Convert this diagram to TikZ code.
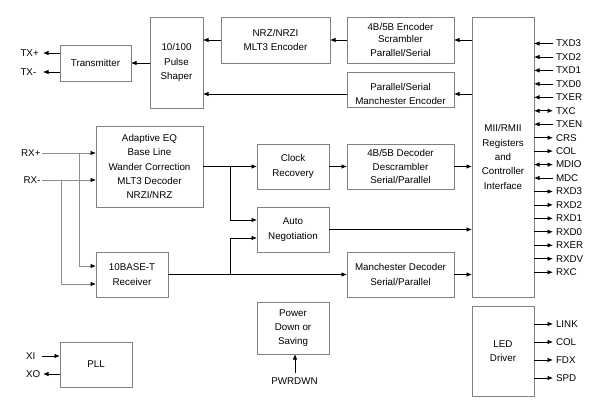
\documentclass[tikz,border=0pt]{standalone}
\usepackage{fontspec}
\setmainfont{Liberation Sans}
\usetikzlibrary{arrows.meta}
\definecolor{bordergray}{HTML}{808080}
\definecolor{wiregray}{HTML}{8C8C8C}
\begin{document}
\begin{tikzpicture}[x=1pt,y=-1pt,
  font=\fontsize{9.8}{14.3}\selectfont,
  blk/.style={draw=bordergray,line width=0.9pt,rectangle,align=center,inner sep=0pt,outer sep=0pt},
  wire/.style={line width=0.8pt,draw=black},
  arr/.style={wire,-{Latex[length=5.5pt,width=4.5pt]}},
  barr/.style={wire,{Latex[length=5.5pt,width=4.5pt]}-{Latex[length=5.5pt,width=4.5pt]}},
  gwire/.style={line width=0.8pt,draw=wiregray},
  garr/.style={gwire,-{Latex[length=5.5pt,width=4.5pt,color=black]}},
  sig-i/.style={wire,{Latex[length=5.5pt,width=4.5pt]}-},
  sig-o/.style={arr},
  sig-b/.style={barr},
  lbl/.style={inner sep=0pt,outer sep=0pt}]
\useasboundingbox (0,0) rectangle (599,410);

% blocks
\node[blk,minimum width=53,minimum height=91] (ps) at (176.5,62.5) {10/100\\Pulse\\Shaper};
\node[blk,minimum width=71,minimum height=36] (tx) at (95.5,63) {Transmitter};
\node[blk,minimum width=109,minimum height=46] (nrz) at (275.5,40) {NRZ/NRZI\\MLT3 Encoder};
\node[blk,minimum width=107,minimum height=46] (enc) at (400.5,40) {4B/5B Encoder\\[-3pt]Scrambler\\Parallel/Serial};
\node[blk,minimum width=107,minimum height=35] (menc) at (400.5,89.5) {};
\node[lbl,align=center] (mencT) at (400.5,94) {Parallel/Serial\\Manchester Encoder};
\node[blk,minimum width=62,minimum height=280] (mii) at (503,157) {MII/RMII\\Registers\\and\\Controller\\Interface};
\node[blk,minimum width=107,minimum height=81] (aeq) at (149.5,166.5) {Adaptive EQ\\Base Line\\Wander Correction\\MLT3 Decoder\\NRZI/NRZ};
\node[blk,minimum width=72,minimum height=45] (clk) at (293,166.5) {Clock\\Recovery};
\node[blk,minimum width=107,minimum height=45] (dec) at (400.5,166.5) {4B/5B Decoder\\[-1pt]Descrambler\\[-1pt]Serial/Parallel};
\node[blk,minimum width=72,minimum height=45] (an) at (293,229.5) {Auto\\Negotiation};
\node[blk,minimum width=72,minimum height=45] (tenb) at (132,274.5) {10BASE-T\\Receiver};
\node[blk,minimum width=107,minimum height=45] (mdec) at (400.5,274.5) {Manchester Decoder\\Serial/Parallel};
\node[blk,minimum width=62,minimum height=90] (led) at (503,351) {LED\\Driver};
\node[blk,minimum width=72,minimum height=45] (pll) at (96,364.5) {PLL};
\node[blk,minimum width=72,minimum height=52] (pwr) at (293,328) {Power\\Down or\\Saving};

% transmit path
\draw[arr] (ps.west |- tx.east) -- (tx.east);
\draw[arr] (nrz.west) -- (ps.east |- nrz.west);
\draw[arr] (enc.west) -- (nrz.east);
\draw[arr] (mii.west |- enc.east) -- (enc.east);
\coordinate (y94) at (0,94);
\draw[arr] (mii.west |- y94) -- (menc.east |- y94);
\draw[arr] (menc.west |- y94) -- (ps.east |- y94);

\node[lbl,anchor=west] (txp) at (20.5,53) {TX+};
\node[lbl,anchor=west] (txm) at (20.5,72) {TX-};
\coordinate (txpE) at (43,53);
\coordinate (txmE) at (43,72);
\draw[arr] (tx.west |- txpE) -- (txpE);
\draw[arr] (tx.west |- txmE) -- (txmE);

% receive inputs
\node[lbl,anchor=east] (rxp) at (40.5,153) {RX+};
\node[lbl,anchor=east] (rxm) at (40.5,180) {RX-};
\coordinate (rxpS) at (42,153);
\coordinate (rxmS) at (42,180);
\coordinate (bp) at (79,153);
\coordinate (bm) at (61,180);
\coordinate (t1) at (0,266);
\coordinate (t2) at (0,284);
\draw[garr] (rxpS) -- (aeq.west |- rxpS);
\draw[garr] (rxmS) -- (aeq.west |- rxmS);
\draw[garr] (bp) -- (bp |- t1) -- (tenb.west |- t1);
\draw[garr] (bm) -- (bm |- t2) -- (tenb.west |- t2);

% receive middle
\draw[arr] (aeq.east) -- (clk.west);
\coordinate (j1) at (230,166.5);
\coordinate (a1) at (0,220);
\coordinate (a2) at (0,238);
\draw[arr] (j1) -- (j1 |- a1) -- (an.west |- a1);
\draw[arr] (tenb.east) -- (mdec.west);
\coordinate (j2) at (230,274.5);
\draw[arr] (j2) -- (j2 |- a2) -- (an.west |- a2);
\draw[arr] (clk.east) -- (dec.west);
\draw[arr] (dec.east) -- (mii.west |- dec.east);
\draw[arr] (an.east) -- (mii.west |- an.east);
\draw[arr] (mdec.east) -- (mii.west |- mdec.east);

% MII signals
\foreach \nm/\ty/\yy in {TXD3/i/43.5, TXD2/i/57, TXD1/i/70.4, TXD0/i/83.9, TXER/i/97.3, TXC/b/110.8, TXEN/i/124.2, CRS/o/137.7, COL/o/151.1, MDIO/b/164.6, MDC/i/178, RXD3/o/191.5, RXD2/o/204.9, RXD1/o/218.4, RXD0/o/231.8, RXER/o/245.3, RXDV/o/258.7, RXC/o/272.2}{
  \node[lbl,anchor=west] (m-\nm) at (556,\yy) {\nm};
  \draw[sig-\ty] (mii.east |- m-\nm.west) -- ([xshift=-3pt]m-\nm.west);
}

% LED signals
\foreach \nm/\yy in {LINK/324, COL/342, FDX/360, SPD/378}{
  \node[lbl,anchor=west] (l-\nm) at (556,\yy) {\nm};
  \draw[arr] (led.east |- l-\nm.west) -- ([xshift=-3pt]l-\nm.west);
}

% PLL
\node[lbl,anchor=west] (xi) at (26,356) {XI};
\node[lbl,anchor=west] (xo) at (26,374) {XO};
\coordinate (xiS) at (42,356);
\coordinate (xoE) at (43,374);
\draw[arr] (xiS) -- (pll.west |- xiS);
\draw[arr] (pll.west |- xoE) -- (xoE);

% power down
\node[lbl] (pwrdwn) at (294.5,381) {PWRDWN};
\coordinate (pwS) at (295,373);
\draw[arr] (pwS) -- (pwr.south -| pwS);
\end{tikzpicture}
\end{document}
